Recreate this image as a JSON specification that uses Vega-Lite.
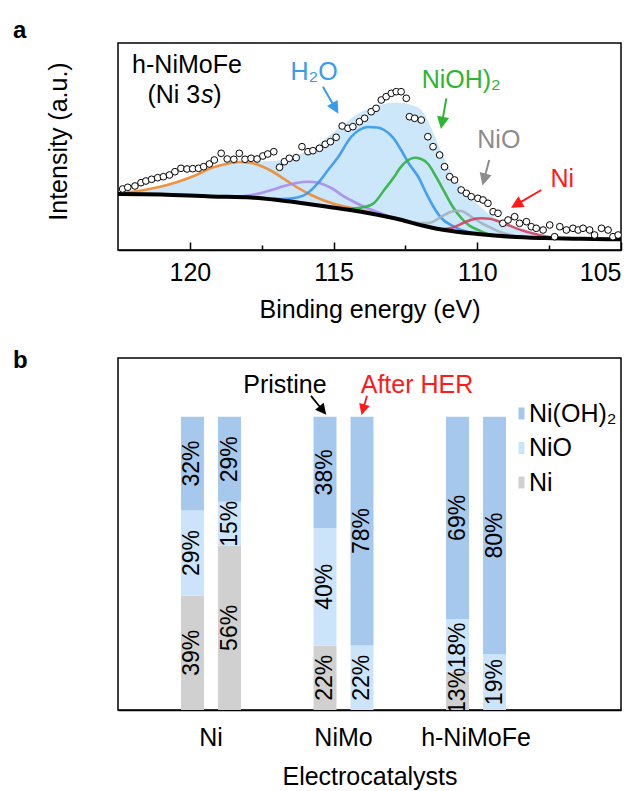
{
"$schema": "https://vega.github.io/schema/vega-lite/v6.json",
"autosize": {"type": "pad"},
"padding": {"left": 12, "top": 18, "right": 0, "bottom": 0},
"spacing": 108,
"bounds": "flush",
"resolve": {"scale": {"color": "independent"}, "legend": {"color": "independent"}},
"config": {
 "font": "Liberation Sans",
 "view": {"stroke": "black", "strokeWidth": 1.5},
 "axis": {"grid": false, "labelFont": "Liberation Sans", "titleFont": "Liberation Sans", "labelFontSize": 25, "titleFontSize": 25, "titleFontWeight": "normal", "labelColor": "black", "titleColor": "black", "domainColor": "black", "domainWidth": 1.5, "tickColor": "black", "tickWidth": 1.5},
 "legend": {"labelFont": "Liberation Sans", "labelFontSize": 25, "labelColor": "black"},
 "title": {"font": "Liberation Sans", "fontSize": 24, "fontWeight": "bold", "anchor": "start", "frame": "group", "baseline": "alphabetic", "color": "black"},
 "text": {"font": "Liberation Sans"}
},
"datasets": {
 "xps": [
  {"E":122.34,"I":61},{"E":122.16,"I":62.7},{"E":121.91,"I":64},{"E":121.70,"I":67.3},{"E":121.53,"I":69},{"E":121.33,"I":70.7},{"E":121.12,"I":72.3},{"E":120.92,"I":73.3},{"E":120.71,"I":75},{"E":120.52,"I":78.3},{"E":120.31,"I":81.7},{"E":120.10,"I":81},{"E":119.90,"I":81.3},{"E":119.70,"I":81.7},{"E":119.52,"I":83.3},{"E":119.32,"I":86},{"E":119.15,"I":90},{"E":118.91,"I":96.7},{"E":118.70,"I":91},{"E":118.47,"I":90.7},{"E":118.28,"I":96.7},{"E":118.08,"I":90.7},{"E":117.87,"I":91.7},{"E":117.66,"I":91},{"E":117.46,"I":94},{"E":117.29,"I":96},{"E":117.08,"I":98.3},{"E":116.88,"I":82.7},{"E":116.71,"I":88.3},{"E":116.54,"I":91.7},{"E":116.30,"I":92.3},{"E":116.10,"I":103.3},{"E":115.89,"I":98.3},{"E":115.72,"I":99.3},{"E":115.49,"I":101.7},{"E":115.29,"I":105.7},{"E":115.11,"I":108.3},{"E":114.91,"I":112.7},{"E":114.70,"I":124},{"E":114.50,"I":121.7},{"E":114.33,"I":123.3},{"E":114.10,"I":128.3},{"E":113.92,"I":131.7},{"E":113.69,"I":138.3},{"E":113.52,"I":141.7},{"E":113.34,"I":150},{"E":113.17,"I":153.3},{"E":112.99,"I":156.7},{"E":112.82,"I":158.3},{"E":112.65,"I":158.3},{"E":112.47,"I":151.7},{"E":112.36,"I":133.3},{"E":112.18,"I":131.7},{"E":111.95,"I":130},{"E":111.72,"I":113.3},{"E":111.54,"I":103.3},{"E":111.31,"I":95},{"E":111.14,"I":83.3},{"E":110.96,"I":73.3},{"E":110.79,"I":70},{"E":110.56,"I":60},{"E":110.38,"I":56.7},{"E":110.21,"I":53.3},{"E":109.98,"I":51.7},{"E":109.80,"I":50},{"E":109.63,"I":46.7},{"E":109.45,"I":38.3},{"E":109.28,"I":36.7},{"E":109.11,"I":26.7},{"E":108.93,"I":30},{"E":108.70,"I":33.3},{"E":108.53,"I":26.7},{"E":108.29,"I":28.3},{"E":108.12,"I":23.3},{"E":107.95,"I":21.7},{"E":107.71,"I":20},{"E":107.48,"I":25},{"E":107.31,"I":13.3},{"E":107.13,"I":23.3},{"E":106.90,"I":20},{"E":106.67,"I":21.7},{"E":106.49,"I":20},{"E":106.32,"I":21.7},{"E":106.09,"I":20},{"E":105.92,"I":15},{"E":105.68,"I":21.7},{"E":105.45,"I":20},{"E":105.28,"I":13.3},{"E":105.10,"I":15}
 ],
 "bg": [
  {"E":122.5,"I":56},{"E":121.0,"I":55.5},{"E":119.26,"I":53.5},{"E":117.87,"I":52.5},{"E":116.94,"I":50},{"E":116.13,"I":47},{"E":115.20,"I":43.3},{"E":114.04,"I":38.3},{"E":112.88,"I":31.7},{"E":111.72,"I":23.3},{"E":111.14,"I":20},{"E":109.98,"I":16},{"E":108.82,"I":13.3},{"E":107.66,"I":12},{"E":106.38,"I":11.2},{"E":105.0,"I":10.7}
 ],
 "env": [
  {"E":122.5,"I":56.5,"I0":56},{"E":121.59,"I":60,"I0":55.7},{"E":121.0,"I":63.5,"I0":55.5},{"E":120.41,"I":68.3,"I0":54.8},{"E":119.78,"I":75,"I0":54.1},{"E":119.26,"I":82,"I0":53.5},{"E":118.74,"I":86,"I0":53.1},{"E":118.29,"I":88,"I0":52.8},{"E":117.70,"I":88.5,"I0":52},{"E":117.07,"I":89,"I0":50.4},{"E":116.48,"I":93,"I0":48.3},{"E":115.78,"I":101,"I0":45.6},{"E":115.08,"I":116,"I0":42.8},{"E":114.63,"I":126,"I0":40.8},{"E":114.04,"I":138,"I0":38.3},{"E":113.52,"I":144,"I0":35.3},{"E":113.17,"I":146.5,"I0":33.4},{"E":112.89,"I":147.3,"I0":31.7},{"E":112.58,"I":147,"I0":29.5},{"E":112.30,"I":145,"I0":27.5},{"E":111.95,"I":140,"I0":25.1},{"E":111.60,"I":122,"I0":22.6},{"E":111.25,"I":98,"I0":20.8},{"E":110.80,"I":73,"I0":18.8},{"E":110.31,"I":55,"I0":17.2},{"E":109.76,"I":40,"I0":15.5},{"E":109.16,"I":28,"I0":14.1},{"E":108.47,"I":20,"I0":12.9},{"E":107.80,"I":15,"I0":12.1},{"E":107.08,"I":12.5,"I0":11.6},{"E":105.0,"I":10.9,"I0":10.7}
 ],
 "comps": [
  {"peak":"C1","E":122.5,"I":56.5},{"peak":"C1","E":121.59,"I":60},{"peak":"C1","E":121.0,"I":63.5},{"peak":"C1","E":120.41,"I":68.3},{"peak":"C1","E":119.78,"I":75},{"peak":"C1","E":119.26,"I":82},{"peak":"C1","E":118.74,"I":86},{"peak":"C1","E":118.29,"I":88},{"peak":"C1","E":117.87,"I":87},{"peak":"C1","E":117.52,"I":84},{"peak":"C1","E":117.10,"I":78},{"peak":"C1","E":116.72,"I":71},{"peak":"C1","E":116.23,"I":62},{"peak":"C1","E":115.78,"I":55},{"peak":"C1","E":115.33,"I":49.5},{"peak":"C1","E":114.84,"I":45},{"peak":"C1","E":114.28,"I":41.5},{"peak":"C1","E":113.69,"I":37.5},{"peak":"C1","E":112.89,"I":31.7},
  {"peak":"C2","E":118.91,"I":53},{"peak":"C2","E":118.22,"I":53.5},{"peak":"C2","E":117.52,"I":57},{"peak":"C2","E":117.10,"I":60.5},{"peak":"C2","E":116.72,"I":64},{"peak":"C2","E":116.30,"I":67},{"peak":"C2","E":115.88,"I":68.3},{"peak":"C2","E":115.50,"I":67},{"peak":"C2","E":115.08,"I":62},{"peak":"C2","E":114.63,"I":53.3},{"peak":"C2","E":114.21,"I":47},{"peak":"C2","E":113.80,"I":41.5},{"peak":"C2","E":113.34,"I":36.5},{"peak":"C2","E":112.82,"I":31},{"peak":"C2","E":112.30,"I":27.5},
  {"peak":"C3","E":117.52,"I":51.6},{"peak":"C3","E":116.82,"I":51},{"peak":"C3","E":116.37,"I":52},{"peak":"C3","E":115.95,"I":56},{"peak":"C3","E":115.54,"I":67},{"peak":"C3","E":115.19,"I":80},{"peak":"C3","E":114.84,"I":93},{"peak":"C3","E":114.39,"I":113},{"peak":"C3","E":114.11,"I":120},{"peak":"C3","E":113.80,"I":123},{"peak":"C3","E":113.48,"I":122.5},{"peak":"C3","E":113.24,"I":120},{"peak":"C3","E":112.92,"I":112},{"peak":"C3","E":112.65,"I":100},{"peak":"C3","E":112.37,"I":86},{"peak":"C3","E":112.05,"I":73},{"peak":"C3","E":111.78,"I":57},{"peak":"C3","E":111.50,"I":42},{"peak":"C3","E":111.22,"I":31},{"peak":"C3","E":110.91,"I":25},{"peak":"C3","E":110.56,"I":20},{"peak":"C3","E":110.21,"I":17},{"peak":"C3","E":109.76,"I":15.5},
  {"peak":"C4","E":114.63,"I":40.8},{"peak":"C4","E":113.93,"I":43},{"peak":"C4","E":113.59,"I":47},{"peak":"C4","E":113.24,"I":60},{"peak":"C4","E":112.92,"I":72},{"peak":"C4","E":112.65,"I":83.3},{"peak":"C4","E":112.40,"I":90},{"peak":"C4","E":112.19,"I":92.3},{"peak":"C4","E":111.95,"I":91},{"peak":"C4","E":111.71,"I":86},{"peak":"C4","E":111.43,"I":73},{"peak":"C4","E":111.14,"I":58},{"peak":"C4","E":110.87,"I":44},{"peak":"C4","E":110.56,"I":32},{"peak":"C4","E":110.28,"I":24.5},{"peak":"C4","E":109.97,"I":20},{"peak":"C4","E":109.69,"I":16.5},{"peak":"C4","E":109.34,"I":14.5},
  {"peak":"C5","E":112.47,"I":28.7},{"peak":"C5","E":112.02,"I":27},{"peak":"C5","E":111.72,"I":27},{"peak":"C5","E":111.60,"I":27.5},{"peak":"C5","E":111.25,"I":33.3},{"peak":"C5","E":110.91,"I":38.3},{"peak":"C5","E":110.73,"I":39.3},{"peak":"C5","E":110.56,"I":39},{"peak":"C5","E":110.21,"I":33.3},{"peak":"C5","E":109.86,"I":27},{"peak":"C5","E":109.51,"I":22},{"peak":"C5","E":109.16,"I":17.5},{"peak":"C5","E":108.82,"I":15},{"peak":"C5","E":108.47,"I":13},{"peak":"C5","E":108.12,"I":12.5},
  {"peak":"C6","E":111.25,"I":20.6},{"peak":"C6","E":110.91,"I":22},{"peak":"C6","E":110.44,"I":27.7},{"peak":"C6","E":110.21,"I":30.3},{"peak":"C6","E":109.86,"I":31.7},{"peak":"C6","E":109.58,"I":31.3},{"peak":"C6","E":109.40,"I":30},{"peak":"C6","E":108.93,"I":25},{"peak":"C6","E":108.47,"I":20},{"peak":"C6","E":108.12,"I":17},{"peak":"C6","E":107.77,"I":14.5},{"peak":"C6","E":107.42,"I":12.5},{"peak":"C6","E":107.08,"I":11.8}
 ],
 "bars": [
  {"catalyst":"Ni","state":"Pristine","species":"Ni","rank":1,"value":39,"label":"39%"},
  {"catalyst":"Ni","state":"Pristine","species":"NiO","rank":2,"value":29,"label":"29%"},
  {"catalyst":"Ni","state":"Pristine","species":"Ni(OH)₂","rank":3,"value":32,"label":"32%"},
  {"catalyst":"Ni","state":"After HER","species":"Ni","rank":1,"value":56,"label":"56%"},
  {"catalyst":"Ni","state":"After HER","species":"NiO","rank":2,"value":15,"label":"15%"},
  {"catalyst":"Ni","state":"After HER","species":"Ni(OH)₂","rank":3,"value":29,"label":"29%"},
  {"catalyst":"NiMo","state":"Pristine","species":"Ni","rank":1,"value":22,"label":"22%"},
  {"catalyst":"NiMo","state":"Pristine","species":"NiO","rank":2,"value":40,"label":"40%"},
  {"catalyst":"NiMo","state":"Pristine","species":"Ni(OH)₂","rank":3,"value":38,"label":"38%"},
  {"catalyst":"NiMo","state":"After HER","species":"NiO","rank":2,"value":22,"label":"22%"},
  {"catalyst":"NiMo","state":"After HER","species":"Ni(OH)₂","rank":3,"value":78,"label":"78%"},
  {"catalyst":"h-NiMoFe","state":"Pristine","species":"Ni","rank":1,"value":13,"label":"13%"},
  {"catalyst":"h-NiMoFe","state":"Pristine","species":"NiO","rank":2,"value":18,"label":"18%"},
  {"catalyst":"h-NiMoFe","state":"Pristine","species":"Ni(OH)₂","rank":3,"value":69,"label":"69%"},
  {"catalyst":"h-NiMoFe","state":"After HER","species":"NiO","rank":2,"value":19,"label":"19%"},
  {"catalyst":"h-NiMoFe","state":"After HER","species":"Ni(OH)₂","rank":3,"value":81,"label":"80%"}
 ]
},
"vconcat": [
 {
  "width": 503, "height": 207,
  "title": {"text": "a", "offset": 0, "dx": -105},
  "encoding": {
   "x": {"field": "E", "type": "quantitative", "scale": {"domain": [105, 122.5], "reverse": true, "nice": false, "zero": false},
         "axis": {"title": "Binding energy (eV)", "values": [105, 107.5, 110, 112.5, 115, 117.5, 120], "labelExpr": "datum.value % 5 === 0 ? datum.label : ''", "tickSize": {"condition": {"test": "datum.value % 5 === 0", "value": -8}, "value": -5}, "labelPadding": 18, "titlePadding": 12}},
   "y": {"field": "I", "type": "quantitative", "scale": {"domain": [0, 207], "nice": false, "zero": false},
         "axis": {"title": "Intensity (a.u.)", "ticks": false, "labels": false, "domain": false, "titlePadding": 47, "titleY": 98}}
  },
  "layer": [
   {"data": {"name": "env"}, "mark": {"type": "area", "color": "#CCE6FA", "opacity": 1, "interpolate": "monotone", "clip": true}, "encoding": {"y2": {"field": "I0"}}},
   {"data": {"name": "comps"}, "mark": {"type": "line", "strokeWidth": 2.6, "interpolate": "monotone", "clip": true, "opacity": 0.9},
    "encoding": {"color": {"field": "peak", "type": "nominal", "scale": {"domain": ["C1","C2","C5","C6","C3","C4"], "range": ["#EE8A2C","#A98CEE","#A2B2BE","#CC4466","#3498EE","#2DB33F"]}, "legend": null}}},
   {"data": {"name": "bg"}, "mark": {"type": "line", "color": "black", "strokeWidth": 4, "interpolate": "monotone", "clip": true}},
   {"data": {"name": "xps"}, "mark": {"type": "point", "shape": "circle", "filled": true, "fill": "white", "stroke": "black", "strokeWidth": 1, "size": 45, "opacity": 1, "clip": true}},
   {"data": {"values": [{"E": 120.10, "I": 185, "t": "h-NiMoFe"}]}, "mark": {"type": "text", "fontSize": 25, "align": "center", "baseline": "middle", "color": "black"}, "encoding": {"text": {"field": "t"}}},
   {"data": {"values": [{"E": 119.64, "I": 155, "t": "(Ni 3"}]}, "mark": {"type": "text", "fontSize": 25, "align": "right", "baseline": "middle", "color": "black"}, "encoding": {"text": {"field": "t"}}},
   {"data": {"values": [{"E": 119.61, "I": 155, "t": "s"}]}, "mark": {"type": "text", "fontSize": 25, "fontStyle": "italic", "align": "left", "baseline": "middle", "color": "black"}, "encoding": {"text": {"field": "t"}}},
   {"data": {"values": [{"E": 119.19, "I": 155, "t": ")"}]}, "mark": {"type": "text", "fontSize": 25, "align": "left", "baseline": "middle", "color": "black"}, "encoding": {"text": {"field": "t"}}},
   {"data": {"values": [{"E": 115.68, "I": 178.3, "t": "H₂O"}]}, "mark": {"type": "text", "fontSize": 25, "align": "center", "baseline": "middle", "color": "#3A9BEA"}, "encoding": {"text": {"field": "t"}}},
   {"data": {"values": [{"E": 110.56, "I": 170, "t": "NiOH)₂"}]}, "mark": {"type": "text", "fontSize": 25, "align": "center", "baseline": "middle", "color": "#2DB432"}, "encoding": {"text": {"field": "t"}}},
   {"data": {"values": [{"E": 109.25, "I": 110, "t": "NiO"}]}, "mark": {"type": "text", "fontSize": 25, "align": "center", "baseline": "middle", "color": "#8C8C8C"}, "encoding": {"text": {"field": "t"}}},
   {"data": {"values": [{"E": 107.04, "I": 71, "t": "Ni"}]}, "mark": {"type": "text", "fontSize": 25, "align": "center", "baseline": "middle", "color": "#FF1A1A"}, "encoding": {"text": {"field": "t"}}},
   {"data": {"values": [{"E": 114.87, "I": 138.3}]}, "mark": {"type": "point", "shape": "M0,0L-0.45,0.9L0.45,0.9Z M0,0.8V2.88", "size": 400, "angle": 150, "filled": true, "fill": "#3A9BEA", "stroke": "#3A9BEA", "strokeWidth": 2, "opacity": 1}},
   {"data": {"values": [{"E": 111.25, "I": 123.3}]}, "mark": {"type": "point", "shape": "M0,0L-0.45,0.9L0.45,0.9Z M0,0.8V2.88", "size": 400, "angle": 190, "filled": true, "fill": "#2DB432", "stroke": "#2DB432", "strokeWidth": 2, "opacity": 1}},
   {"data": {"values": [{"E": 109.80, "I": 66.7}]}, "mark": {"type": "point", "shape": "M0,0L-0.45,0.9L0.45,0.9Z M0,0.8V2.41", "size": 400, "angle": 195, "filled": true, "fill": "#8C8C8C", "stroke": "#8C8C8C", "strokeWidth": 2, "opacity": 1}},
   {"data": {"values": [{"E": 108.76, "I": 43.3}]}, "mark": {"type": "point", "shape": "M0,0L-0.45,0.9L0.45,0.9Z M0,0.8V3.29", "size": 400, "angle": 239.5, "filled": true, "fill": "#FF1A1A", "stroke": "#FF1A1A", "strokeWidth": 2, "opacity": 1}}
  ]
 },
 {
  "width": 503, "height": 352,
  "title": {"text": "b", "offset": 0, "dy": 15, "dx": -105},
  "encoding": {
   "x": {"field": "catalyst", "type": "nominal", "sort": ["Ni", "NiMo", "h-NiMoFe"], "scale": {"paddingInner": 0, "paddingOuter": 0.398, "align": 0.2536},
         "axis": {"title": "Electrocatalysts", "ticks": false, "labelAngle": 0, "labelPadding": 15, "titlePadding": 14}},
   "xOffset": {"field": "state", "type": "nominal", "sort": ["Pristine", "After HER"], "scale": {"paddingInner": 0.38, "paddingOuter": 0.98}}
  },
  "layer": [
   {"data": {"name": "bars"}, "mark": {"type": "bar"},
    "encoding": {
     "y": {"field": "value", "type": "quantitative", "stack": "zero", "scale": {"domain": [0, 120], "nice": false},
           "axis": {"title": "Relative percentage (%)", "values": [0, 25, 50, 75, 100], "labelExpr": "datum.value % 50 === 0 ? datum.label : ''", "tickSize": {"condition": {"test": "datum.value % 50 === 0", "value": -7}, "value": -4}, "labelPadding": 14, "titlePadding": 5, "titleY": 189}},
     "color": {"field": "species", "type": "nominal", "scale": {"domain": ["Ni(OH)₂", "NiO", "Ni"], "range": ["#A6C8EC", "#CCE4FA", "#D0D0D0"]},
               "legend": {"title": null, "orient": "none", "legendX": 391, "legendY": 43, "padding": 0, "symbolType": "M-0.5,-1H0.5V1H-0.5Z", "symbolSize": 144, "symbolStrokeWidth": 0, "labelOffset": -5, "rowPadding": 8.5}},
     "order": {"field": "rank", "type": "quantitative"}
    }},
   {"data": {"name": "bars"},
    "transform": [{"stack": "value", "groupby": ["catalyst", "state"], "sort": [{"field": "rank", "order": "ascending"}], "as": ["v0", "v1"]}, {"calculate": "(datum.v0 + datum.v1) / 2", "as": "mid"}],
    "mark": {"type": "text", "angle": 270, "fontSize": 23, "align": "center", "baseline": "middle", "color": "black", "clip": true},
    "encoding": {"y": {"field": "mid", "type": "quantitative", "axis": null}, "text": {"field": "label"}}},
   {"data": {"values": [{"catalyst": "NiMo", "state": "Pristine", "y": 110.8, "t": "Pristine"}]},
    "mark": {"type": "text", "fontSize": 25, "align": "center", "baseline": "middle", "color": "black", "dx": -40},
    "encoding": {"y": {"field": "y", "type": "quantitative", "axis": null}, "text": {"field": "t"}}},
   {"data": {"values": [{"catalyst": "NiMo", "state": "After HER", "y": 110.8, "t": "After HER"}]},
    "mark": {"type": "text", "fontSize": 25, "align": "center", "baseline": "middle", "color": "#FF1A1A", "dx": 55},
    "encoding": {"y": {"field": "y", "type": "quantitative", "axis": null}, "text": {"field": "t"}}},
   {"data": {"values": [{"catalyst": "NiMo", "state": "Pristine", "y": 101.2}]},
    "mark": {"type": "point", "shape": "M0,0L-0.4,0.8L0.4,0.8Z M0,0.7V2.23", "size": 400, "angle": 141, "filled": true, "fill": "black", "stroke": "black", "strokeWidth": 1.8, "opacity": 1},
    "encoding": {"y": {"field": "y", "type": "quantitative", "axis": null}}},
   {"data": {"values": [{"catalyst": "NiMo", "state": "After HER", "y": 101.2}]},
    "mark": {"type": "point", "shape": "M0,0L-0.4,0.8L0.4,0.8Z M0,0.7V1.8", "size": 400, "angle": 196, "filled": true, "fill": "#FF1A1A", "stroke": "#FF1A1A", "strokeWidth": 1.8, "opacity": 1, "dx": 3},
    "encoding": {"y": {"field": "y", "type": "quantitative", "axis": null}}}
  ]
 }
]
}
